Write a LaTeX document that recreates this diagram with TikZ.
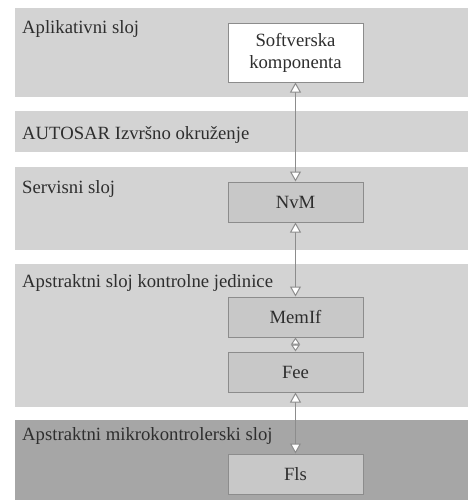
\documentclass[tikz,border=0pt]{standalone}
\usepackage{fontspec}
\setmainfont{Liberation Serif}
\usetikzlibrary{arrows.meta}
\definecolor{bandlight}{HTML}{D3D3D3}
\definecolor{banddark}{HTML}{A6A6A6}
\definecolor{boxfill}{HTML}{C8C8C8}
\definecolor{edgegray}{HTML}{8C8C8C}
\definecolor{labeltext}{HTML}{2E2E2E}
\tikzset{
  ifhead/.tip={Triangle[fill=white,width=11pt,length=10pt]},
  ifsmall/.tip={Triangle[fill=white,width=9pt,length=7pt]}
}
\begin{document}
\begin{tikzpicture}[x=1pt,y=-1pt,
  layerlabel/.style={anchor=base west,inner sep=0pt,font=\fontsize{18.7}{22}\selectfont,text=labeltext},
  module/.style={draw=edgegray,line width=1pt,fill=boxfill,minimum width=135pt,minimum height=40pt,inner sep=0pt,
    font=\fontsize{18.7}{22}\selectfont,align=center,text=labeltext},
  link/.style={draw=edgegray,line width=1pt}
]
\useasboundingbox (0,0) rectangle (468,504);

% layer bands
\fill[bandlight] (15,8) rectangle (468,97);
\fill[bandlight] (15,111) rectangle (468,152);
\fill[bandlight] (15,167) rectangle (468,250);
\fill[bandlight] (15,264) rectangle (468,407);
\fill[banddark] (15,420) rectangle (468,500);

% layer names
\node[layerlabel] (lapp) at (22,33) {Aplikativni sloj};
\node[layerlabel] (lrte) at (22,139) {AUTOSAR Izvršno okruženje};
\node[layerlabel] (lsrv) at (22,193) {Servisni sloj};
\node[layerlabel] (lecu) at (22,287) {Apstraktni sloj kontrolne jedinice};
\node[layerlabel] (lmcu) at (22,440) {Apstraktni mikrokontrolerski sloj};

% software modules
\node[module,fill=white,minimum height=59pt] (swc) at (295.5,52.5) {Softverska\\komponenta};
\node[module] (nvm) at (295.5,202) {NvM};
\node[module] (memif) at (295.5,317) {MemIf};
\node[module] (fee) at (295.5,372) {Fee};
\node[module] (fls) at (295.5,474) {Fls};

% interfaces between modules
\draw[link,{ifhead}-{ifhead}] (swc) -- (nvm);
\draw[link,{ifhead}-{ifhead}] (nvm) -- (memif);
\draw[link,{ifsmall}-{ifsmall}] (memif) -- (fee);
\draw[link,{ifhead}-{ifhead}] (fee) -- (fls);
\end{tikzpicture}
\end{document}
